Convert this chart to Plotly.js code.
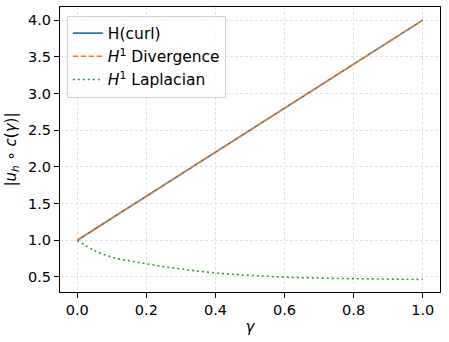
<!DOCTYPE html>
<html>
<head>
<meta charset="utf-8">
<script src="https://cdn.plot.ly/plotly-3.0.1.min.js"></script>
<style>
  body { margin: 0; background: #fff; }
  #chart { width: 449px; height: 342px; }
</style>
</head>
<body>
<div id="chart"></div>
<script>
"use strict"
var gamma = [0, 0.05, 0.1, 0.15, 0.2, 0.25, 0.3, 0.35, 0.4, 0.45, 0.5,
  0.55, 0.6, 0.65, 0.7, 0.75, 0.8, 0.85, 0.9, 0.95, 1.0];

var hcurl = [1.0, 1.15, 1.3, 1.45, 1.6, 1.75, 1.9, 2.05, 2.2, 2.35, 2.5,
  2.65, 2.8, 2.95, 3.1, 3.25, 3.4, 3.55, 3.7, 3.85, 4.0];

var h1Div = [1.0, 1.15, 1.3, 1.45, 1.6, 1.75, 1.9, 2.05, 2.2, 2.35, 2.5,
  2.65, 2.8, 2.95, 3.1, 3.25, 3.4, 3.55, 3.7, 3.85, 4.0];

var h1Lap = [1.0, 0.86, 0.77, 0.72, 0.68, 0.64, 0.61, 0.58, 0.555, 0.537, 0.522,
  0.51, 0.497, 0.49, 0.485, 0.48, 0.477, 0.474, 0.471, 0.469, 0.467];

var xTicks = [0, 0.2, 0.4, 0.6, 0.8, 1.0];
var yTicks = [0.5, 1.0, 1.5, 2.0, 2.5, 3.0, 3.5, 4.0];

var names = ['H(curl)', '<i>H</i><sup>1</sup> Divergence', '<i>H</i><sup>1</sup> Laplacian'];
var colors = ['#1f77b4', '#ff7f0e', '#2ca02c'];

var trace1 = {
  x: gamma, y: hcurl, type: 'scatter', mode: 'lines', name: names[0],
  line: {color: colors[0], width: 1.6}
};
var trace2 = {
  x: gamma, y: h1Div, type: 'scatter', mode: 'lines', name: names[1],
  line: {color: colors[1], width: 1.6, dash: '5.5px,2.4px'}
};
var trace3 = {
  x: gamma, y: h1Lap, type: 'scatter', mode: 'lines', name: names[2],
  line: {color: colors[2], width: 1.6, dash: '2px,3px', shape: 'spline'}
};

var tickfont = {family: 'DejaVu Sans', size: 14.5, color: '#000'};

var layout = {
  width: 449,
  height: 342,
  margin: {l: 60, r: 9, t: 7, b: 50},
  paper_bgcolor: '#fff',
  plot_bgcolor: '#fff',
  font: {family: 'DejaVu Sans', size: 14.5, color: '#000'},
  showlegend: true,
  legend: {
    x: 0.018, y: 0.97, xanchor: 'left', yanchor: 'top',
    bgcolor: 'rgba(255,255,255,0.8)',
    bordercolor: '#d0d0d0', borderwidth: 1,
    font: {family: 'DejaVu Sans', size: 15.5, color: '#000'}
  },
  xaxis: {
    range: [-0.05, 1.05],
    tickvals: xTicks,
    ticktext: xTicks.map(function (v) { return v.toFixed(1); }),
    showline: true, mirror: true, linecolor: '#000', linewidth: 1,
    ticks: 'outside', ticklen: 5, tickcolor: '#000',
    showgrid: true, gridcolor: '#e2e2e2', griddash: '3px,2px', gridwidth: 0.8,
    zeroline: false,
    tickfont: tickfont,
    title: {text: '<i>γ</i>', font: {family: 'DejaVu Sans', size: 15}, standoff: 4}
  },
  yaxis: {
    range: [0.295, 4.18],
    tickvals: yTicks,
    ticktext: yTicks.map(function (v) { return v.toFixed(1); }),
    showline: true, mirror: true, linecolor: '#000', linewidth: 1,
    ticks: 'outside', ticklen: 5, tickcolor: '#000',
    showgrid: true, gridcolor: '#e2e2e2', griddash: '3px,2px', gridwidth: 0.8,
    zeroline: false,
    tickfont: tickfont,
    title: {text: '|<i>u<sub>h</sub></i> ∘ <i>c</i>(<i>γ</i>)|', font: {family: 'DejaVu Sans', size: 15}, standoff: 7}
  }
};

Plotly.newPlot('chart', [trace1, trace2, trace3], layout, {displayModeBar: false});
</script>
</body>
</html>
